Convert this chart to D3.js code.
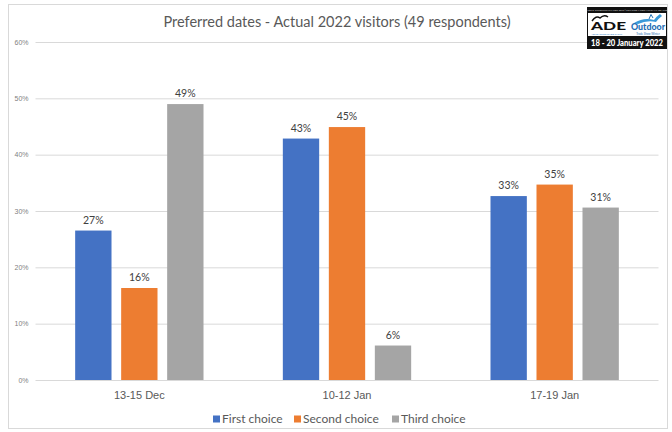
<!DOCTYPE html>
<html>
<head>
<meta charset="utf-8">
<script src="https://cdn.jsdelivr.net/npm/d3@7"></script>
<style>
  body { margin: 0; background: #fff; }
  svg { display: block; font-family: Lato, "Noto Sans", sans-serif; }
</style>
</head>
<body>
<svg id="chart" width="672" height="432"></svg>
<script>
// Share of respondents choosing each date range (percent)
const categories = ["13-15 Dec", "10-12 Jan", "17-19 Jan"];
const seriesNames = ["First choice", "Second choice", "Third choice"];
const firstChoice = [26.53, 42.86, 32.65];
const secondChoice = [16.33, 44.90, 34.69];
const thirdChoice = [48.98, 6.12, 30.61];
const yTicks = [0, 10, 20, 30, 40, 50, 60];
const seriesColors = ["#4472C4", "#ED7D31", "#A5A5A5"];
const titleText = "Preferred dates - Actual 2022 visitors (49 respondents)";

const seriesValues = [firstChoice, secondChoice, thirdChoice];
const rows = categories.map((c, i) => ({
  category: c,
  values: seriesNames.map((s, j) => ({ series: s, value: seriesValues[j][i], color: seriesColors[j] }))
}));

const svg = d3.select("#chart");
const plot = { left: 35.5, right: 658.5, top: 42, bottom: 380 };

// chart frame
svg.append("rect")
  .attr("x", 8.5).attr("y", 4.5).attr("width", 659).attr("height", 424)
  .attr("fill", "#fff").attr("stroke", "#d9d9d9");

const x0 = d3.scaleBand().domain(categories)
  .range([plot.left, plot.right]).paddingInner(0.382).paddingOuter(0.191);
const x1 = d3.scaleBand().domain(seriesNames)
  .range([0, x0.bandwidth()]).paddingInner(0.21);
const y = d3.scaleLinear().domain([0, 60]).range([plot.bottom, plot.top]);

// gridlines and y labels
const yAxis = svg.append("g")
  .attr("transform", `translate(${plot.left},0)`)
  .call(d3.axisLeft(y).tickValues(yTicks).tickFormat(d => d + "%")
    .tickSize(-(plot.right - plot.left)).tickPadding(7));
yAxis.select(".domain").remove();
yAxis.selectAll("line").attr("stroke", "#d9d9d9");
yAxis.selectAll("text").attr("fill", "#7f7f7f").style("font-size", "7px");

// bars
const groups = svg.append("g").selectAll("g").data(rows).join("g")
  .attr("transform", d => `translate(${x0(d.category)},0)`);
groups.selectAll("rect").data(d => d.values).join("rect")
  .attr("x", d => x1(d.series))
  .attr("width", x1.bandwidth())
  .attr("y", d => y(d.value))
  .attr("height", d => y(0) - y(d.value))
  .attr("fill", d => d.color);

// value labels
const fmt = d3.format(".0f");
groups.selectAll("text").data(d => d.values).join("text")
  .attr("x", d => x1(d.series) + x1.bandwidth() / 2)
  .attr("y", d => y(d.value) - 7)
  .attr("text-anchor", "middle")
  .attr("fill", "#404040")
  .style("font-size", "10.5px")
  .text(d => fmt(d.value) + "%");

// category axis
const xAxis = svg.append("g")
  .attr("transform", `translate(0,${plot.bottom})`)
  .call(d3.axisBottom(x0).tickSize(0).tickPadding(11));
xAxis.select(".domain").remove();
xAxis.selectAll("text").attr("fill", "#595959").style("font-size", "11px");

// title
svg.append("text")
  .attr("x", 337).attr("y", 27)
  .attr("text-anchor", "middle")
  .attr("fill", "#595959")
  .style("font-size", "14.5px")
  .text(titleText);

// legend
const legendX = [213, 294, 392];
const legend = svg.append("g").selectAll("g").data(seriesNames).join("g")
  .attr("transform", (d, i) => `translate(${legendX[i]},419)`);
legend.append("rect").attr("x", 0).attr("y", -3.5).attr("width", 7).attr("height", 7)
  .attr("fill", (d, i) => seriesColors[i]);
legend.append("text").attr("x", 9).attr("y", 4)
  .attr("fill", "#595959").style("font-size", "12px").text(d => d);

// event badge
const logo = svg.append("g").attr("transform", "translate(587,7)");
logo.append("rect").attr("width", 80).attr("height", 42).attr("fill", "#111");
logo.append("text").attr("x", 40).attr("y", 4.2).attr("text-anchor", "middle")
  .attr("fill", "#ccc").style("font-size", "2.5px")
  .text("ADE & OUTDOOR WINTER 2022 | TELFORD INTERNATIONAL CENTRE");
logo.append("rect").attr("x", 1).attr("y", 6).attr("width", 78).attr("height", 23).attr("fill", "#fff");
logo.append("path").attr("d", "M5,14 Q9,8 13,11 Q17,7 21,10").attr("fill", "none")
  .attr("stroke", "#111").attr("stroke-width", 1.4);
logo.append("text").attr("x", 4).attr("y", 22.5).attr("fill", "#111")
  .style("font-size", "12px").style("font-weight", "900")
  .attr("textLength", 35).attr("lengthAdjust", "spacingAndGlyphs").text("ADE");
logo.append("text").attr("x", 4.5).attr("y", 27.6).attr("fill", "#1f7bbf")
  .style("font-size", "2.4px").text("ADVENTURE TRADE SHOW");
logo.append("path").attr("d", "M47,16 Q57,10 67,13 Q70,9 73,7 L75,9 Q71,12 69,15 Q60,13 51,17 Z")
  .attr("fill", "#3a9ad9");
logo.append("path").attr("d", "M62,12 L64,7.5 L66,11").attr("fill", "none")
  .attr("stroke", "#1f6fb5").attr("stroke-width", 1);
logo.append("text").attr("x", 61).attr("y", 23).attr("text-anchor", "middle").attr("fill", "#1f6fb5")
  .style("font-size", "9px").style("font-weight", "900")
  .attr("textLength", 34).attr("lengthAdjust", "spacingAndGlyphs").text("Outdoor");
logo.append("text").attr("x", 61).attr("y", 27.8).attr("text-anchor", "middle").attr("fill", "#1f6fb5")
  .style("font-size", "2.8px").text("Trade Show Winter");
logo.append("text").attr("x", 40).attr("y", 38.5).attr("text-anchor", "middle").attr("fill", "#fff")
  .style("font-size", "8.5px").style("font-weight", "900")
  .attr("textLength", 72).attr("lengthAdjust", "spacingAndGlyphs").text("18 - 20 January 2022");
</script>
</body>
</html>
